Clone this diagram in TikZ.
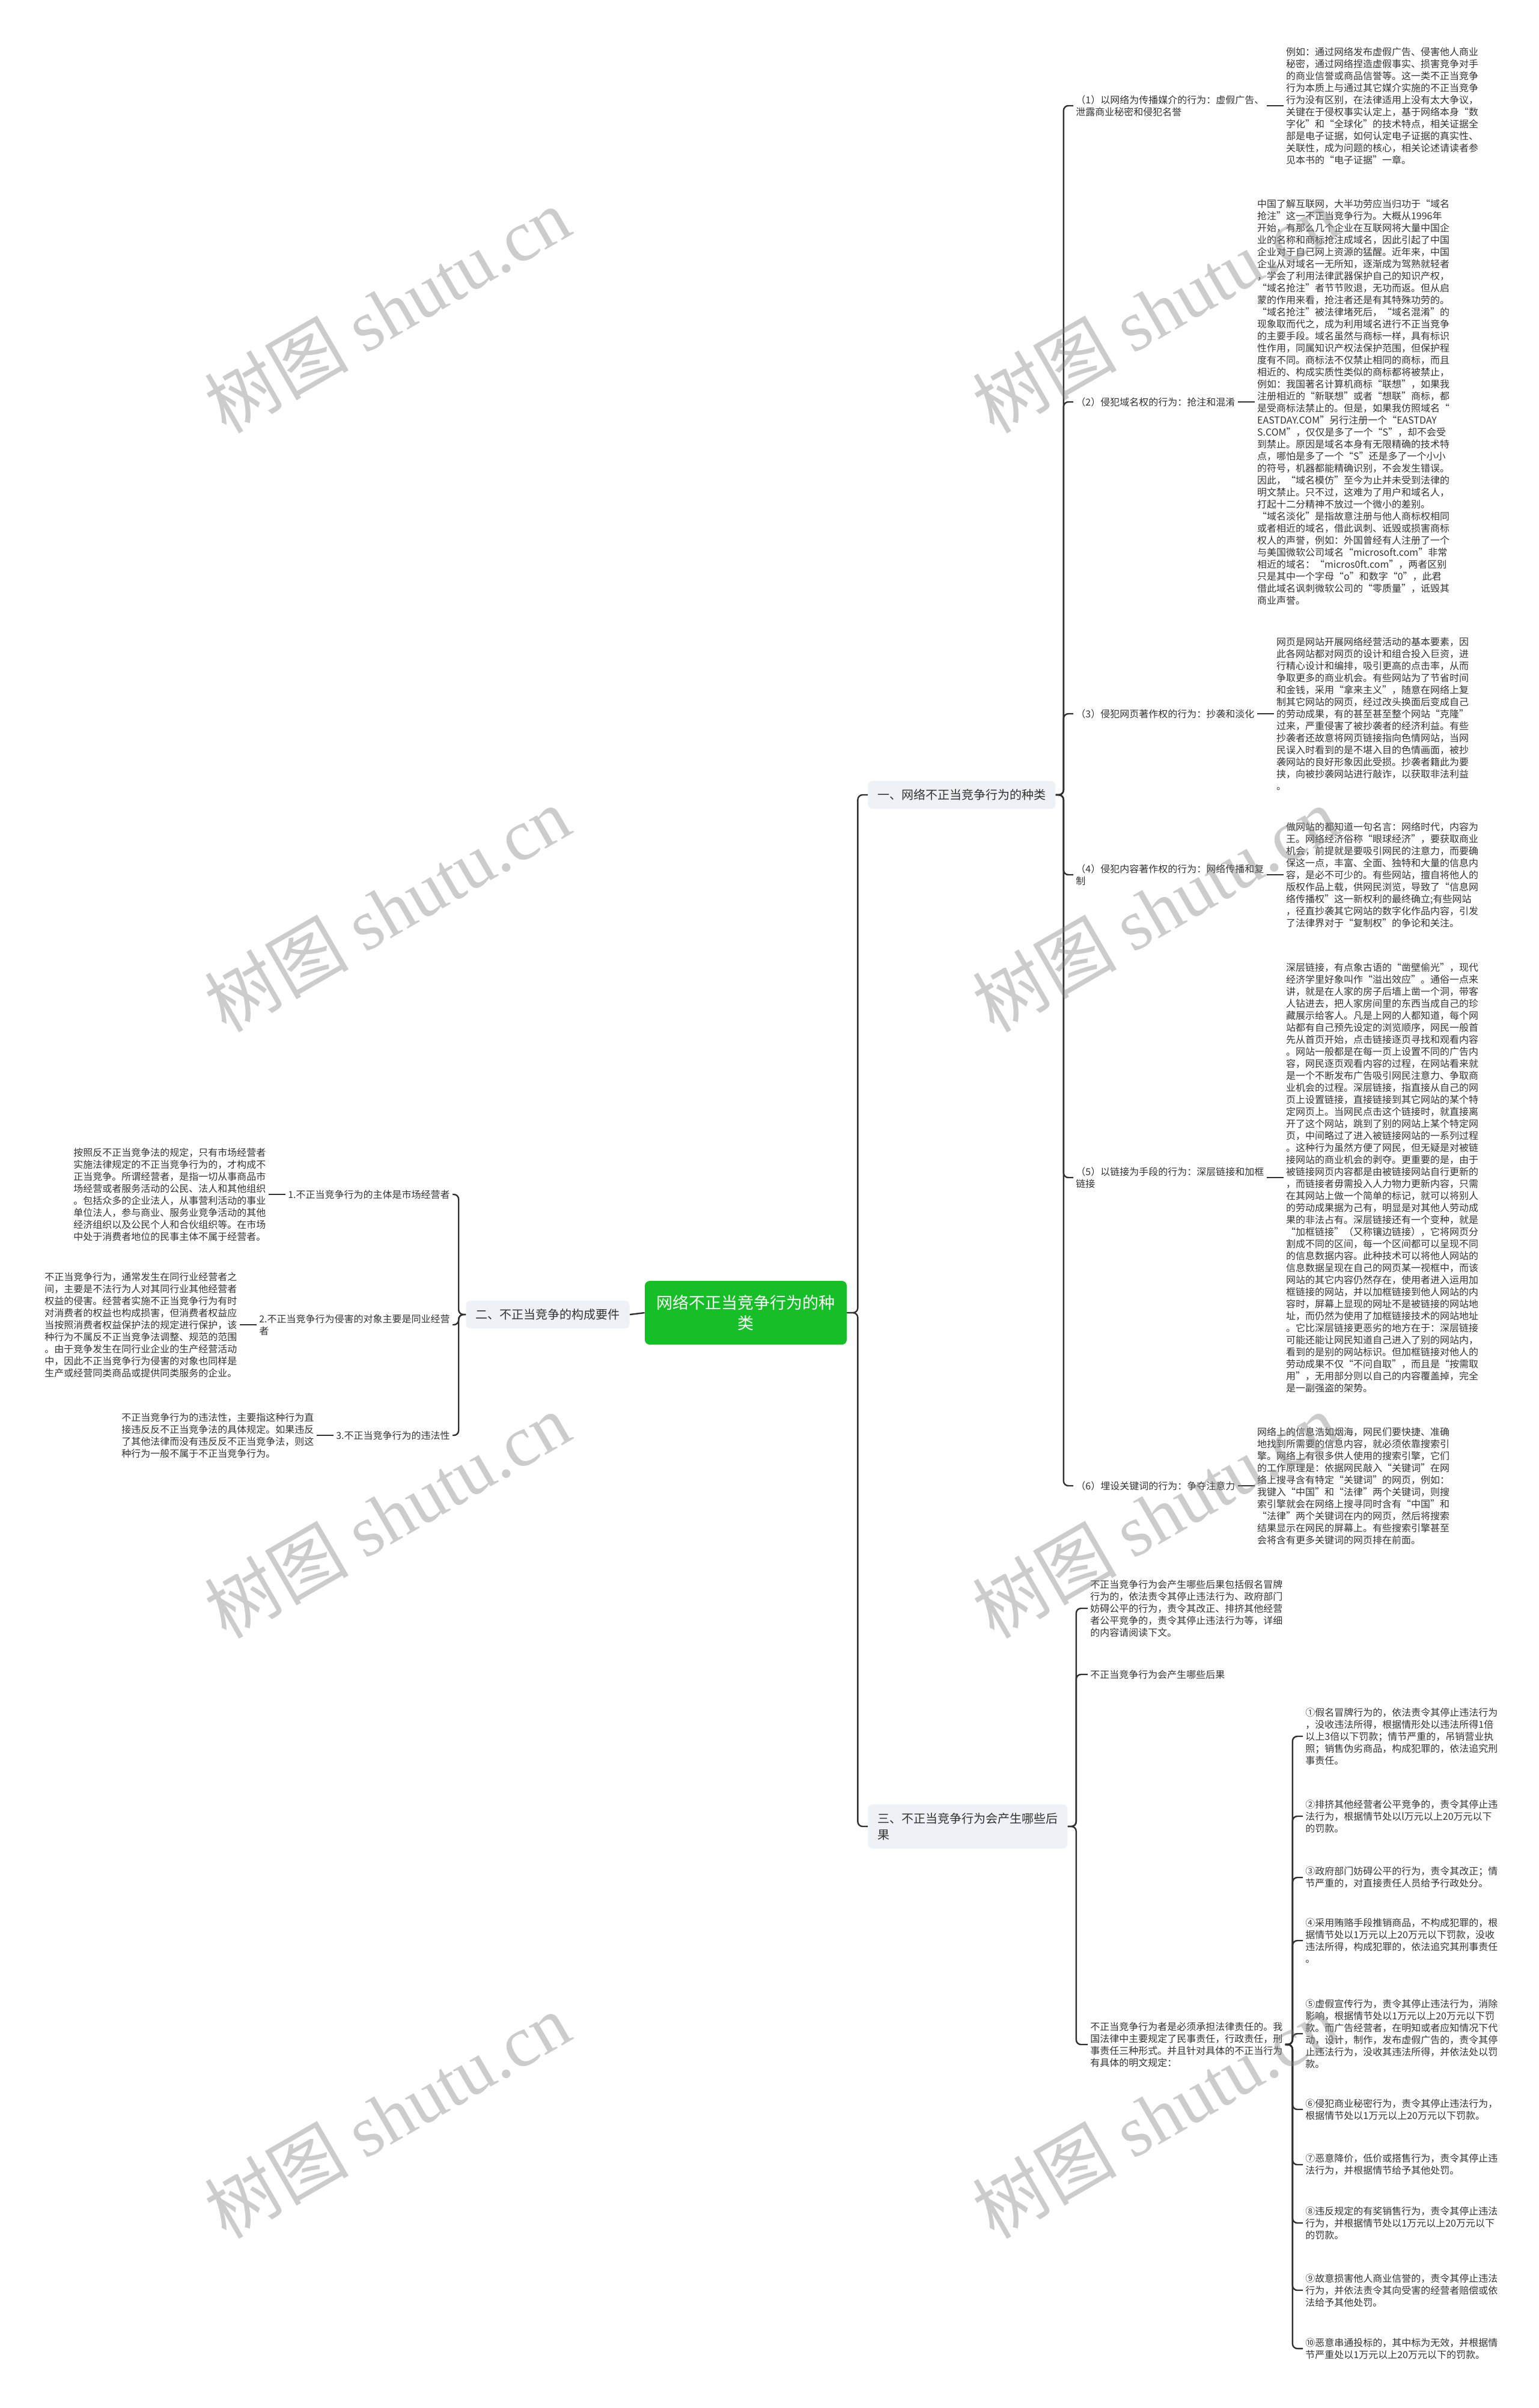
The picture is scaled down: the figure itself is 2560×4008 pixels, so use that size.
\documentclass[tikz,border=0pt]{standalone}
\usepackage{fontspec}
\setmainfont{Noto Sans CJK SC}
\newfontfamily\wmserif{Liberation Serif}
\usetikzlibrary{positioning}
\definecolor{rootgreen}{HTML}{16BF28}
\definecolor{topicfill}{HTML}{EEF1F5}
\definecolor{linkgray}{HTML}{2F2F2F}
\definecolor{textgray}{HTML}{333333}

\begin{document}
\begin{tikzpicture}[x=0.5pt,y=-0.5pt,
  every node/.style={inner sep=2pt,text=textgray,font=\fontsize{8}{10}\selectfont},
  leaf/.style={align=left},
  sub/.style={align=left},
  topic/.style={fill=topicfill,rounded corners=4pt,inner xsep=8pt,inner ysep=7pt,align=left,font=\fontsize{10}{13.5}\selectfont},
  root/.style={fill=rootgreen,rounded corners=4pt,text=white,align=center,minimum width=168pt,minimum height=53pt,font=\fontsize{13.5}{17}\selectfont},
  link/.style={draw=linkgray,line width=1.2pt,rounded corners=4pt},
  wmark/.style={rotate=30,text=gray,text opacity=0.4,font=\fontsize{60}{60}\selectfont}]
\fill[white] (0,0) rectangle (2560,4008);
\useasboundingbox (0,0) rectangle (2560,4008);

\node[root] (root) at (1241,2185) {网络不正当竞争行为的种\\类};
\node[topic,anchor=west] (kinds) at (1444,1323) {一、网络不正当竞争行为的种类};
\node[topic,anchor=east] (elems) at (1048,2188) {二、不正当竞争的构成要件};
\node[topic,anchor=west] (cons) at (1444,3040) {三、不正当竞争行为会产生哪些后\\果};

\node[sub,anchor=west] (k1) at (1786,176) {（1）以网络为传播媒介的行为：虚假广告、\\泄露商业秘密和侵犯名誉};
\node[sub,anchor=west] (k2) at (1786,669) {（2）侵犯域名权的行为：抢注和混淆};
\node[sub,anchor=west] (k3) at (1786,1188) {（3）侵犯网页著作权的行为：抄袭和淡化};
\node[sub,anchor=west] (k4) at (1786,1456) {（4）侵犯内容著作权的行为：网络传播和复\\制};
\node[sub,anchor=west] (k5) at (1786,1960) {（5）以链接为手段的行为：深层链接和加框\\链接};
\node[sub,anchor=west] (k6) at (1786,2473) {（6）埋设关键词的行为：争夺注意力};

\node[leaf,right=14pt of k1] (k1t) {例如：通过网络发布虚假广告、侵害他人商业\\
秘密，通过网络捏造虚假事实、损害竞争对手\\
的商业信誉或商品信誉等。这一类不正当竞争\\
行为本质上与通过其它媒介实施的不正当竞争\\
行为没有区别，在法律适用上没有太大争议，\\
关键在于侵权事实认定上，基于网络本身“数\\
字化”和“全球化”的技术特点，相关证据全\\
部是电子证据，如何认定电子证据的真实性、\\
关联性，成为问题的核心，相关论述请读者参\\
见本书的“电子证据”一章。};
\node[leaf,right=14pt of k2] (k2t) {中国了解互联网，大半功劳应当归功于“域名\\
抢注”这一不正当竞争行为。大概从1996年\\
开始，有那么几个企业在互联网将大量中国企\\
业的名称和商标抢注成域名，因此引起了中国\\
企业对于自己网上资源的猛醒。近年来，中国\\
企业从对域名一无所知，逐渐成为驾熟就轻者\\
，学会了利用法律武器保护自己的知识产权，\\
“域名抢注”者节节败退，无功而返。但从启\\
蒙的作用来看，抢注者还是有其特殊功劳的。\\
“域名抢注”被法律堵死后，“域名混淆”的\\
现象取而代之，成为利用域名进行不正当竞争\\
的主要手段。域名虽然与商标一样，具有标识\\
性作用，同属知识产权法保护范围，但保护程\\
度有不同。商标法不仅禁止相同的商标，而且\\
相近的、构成实质性类似的商标都将被禁止，\\
例如：我国著名计算机商标“联想”，如果我\\
注册相近的“新联想”或者“想联”商标，都\\
是受商标法禁止的。但是，如果我仿照域名“\\
EASTDAY.COM”另行注册一个“EASTDAY\\
S.COM”，仅仅是多了一个“S”，却不会受\\
到禁止。原因是域名本身有无限精确的技术特\\
点，哪怕是多了一个“S”还是多了一个小小\\
的符号，机器都能精确识别，不会发生错误。\\
因此，“域名模仿”至今为止并未受到法律的\\
明文禁止。只不过，这难为了用户和域名人，\\
打起十二分精神不放过一个微小的差别。\\
“域名淡化”是指故意注册与他人商标权相同\\
或者相近的域名，借此讽刺、诋毁或损害商标\\
权人的声誉，例如：外国曾经有人注册了一个\\
与美国微软公司域名“microsoft.com”非常\\
相近的域名：“micros0ft.com”，两者区别\\
只是其中一个字母“o”和数字“0”，此君\\
借此域名讽刺微软公司的“零质量”，诋毁其\\
商业声誉。};
\node[leaf,right=14pt of k3] (k3t) {网页是网站开展网络经营活动的基本要素，因\\
此各网站都对网页的设计和组合投入巨资，进\\
行精心设计和编排，吸引更高的点击率，从而\\
争取更多的商业机会。有些网站为了节省时间\\
和金钱，采用“拿来主义”，随意在网络上复\\
制其它网站的网页，经过改头换面后变成自己\\
的劳动成果，有的甚至甚至整个网站“克隆”\\
过来，严重侵害了被抄袭者的经济利益。有些\\
抄袭者还故意将网页链接指向色情网站，当网\\
民误入时看到的是不堪入目的色情画面，被抄\\
袭网站的良好形象因此受损。抄袭者籍此为要\\
挟，向被抄袭网站进行敲诈，以获取非法利益\\
。};
\node[leaf,right=14pt of k4] (k4t) {做网站的都知道一句名言：网络时代，内容为\\
王。网络经济俗称“眼球经济”，要获取商业\\
机会，前提就是要吸引网民的注意力，而要确\\
保这一点，丰富、全面、独特和大量的信息内\\
容，是必不可少的。有些网站，擅自将他人的\\
版权作品上载，供网民浏览，导致了“信息网\\
络传播权”这一新权利的最终确立;有些网站\\
，径直抄袭其它网站的数字化作品内容，引发\\
了法律界对于“复制权”的争论和关注。};
\node[leaf,right=14pt of k5] (k5t) {深层链接，有点象古语的“凿壁偷光”，现代\\
经济学里好象叫作“溢出效应”。通俗一点来\\
讲，就是在人家的房子后墙上凿一个洞，带客\\
人钻进去，把人家房间里的东西当成自己的珍\\
藏展示给客人。凡是上网的人都知道，每个网\\
站都有自己预先设定的浏览顺序，网民一般首\\
先从首页开始，点击链接逐页寻找和观看内容\\
。网站一般都是在每一页上设置不同的广告内\\
容，网民逐页观看内容的过程，在网站看来就\\
是一个不断发布广告吸引网民注意力、争取商\\
业机会的过程。深层链接，指直接从自己的网\\
页上设置链接，直接链接到其它网站的某个特\\
定网页上。当网民点击这个链接时，就直接离\\
开了这个网站，跳到了别的网站上某个特定网\\
页，中间略过了进入被链接网站的一系列过程\\
。这种行为虽然方便了网民，但无疑是对被链\\
接网站的商业机会的剥夺。更重要的是，由于\\
被链接网页内容都是由被链接网站自行更新的\\
，而链接者毋需投入人力物力更新内容，只需\\
在其网站上做一个简单的标记，就可以将别人\\
的劳动成果据为己有，明显是对其他人劳动成\\
果的非法占有。深层链接还有一个变种，就是\\
“加框链接”（又称镶边链接），它将网页分\\
割成不同的区间，每一个区间都可以呈现不同\\
的信息数据内容。此种技术可以将他人网站的\\
信息数据呈现在自己的网页某一视框中，而该\\
网站的其它内容仍然存在，使用者进入运用加\\
框链接的网站，并以加框链接到他人网站的内\\
容时，屏幕上显现的网址不是被链接的网站地\\
址，而仍然为使用了加框链接技术的网站地址\\
。它比深层链接更恶劣的地方在于：深层链接\\
可能还能让网民知道自己进入了别的网站内，\\
看到的是别的网站标识。但加框链接对他人的\\
劳动成果不仅“不问自取”，而且是“按需取\\
用”，无用部分则以自己的内容覆盖掉，完全\\
是一副强盗的架势。};
\node[leaf,right=14pt of k6] (k6t) {网络上的信息浩如烟海，网民们要快捷、准确\\
地找到所需要的信息内容，就必须依靠搜索引\\
擎。网络上有很多供人使用的搜索引擎，它们\\
的工作原理是：依据网民敲入“关键词”在网\\
络上搜寻含有特定“关键词”的网页，例如：\\
我键入“中国”和“法律”两个关键词，则搜\\
索引擎就会在网络上搜寻同时含有“中国”和\\
“法律”两个关键词在内的网页，然后将搜索\\
结果显示在网民的屏幕上。有些搜索引擎甚至\\
会将含有更多关键词的网页排在前面。};

\node[sub,anchor=east] (e1) at (753,1988) {1.不正当竞争行为的主体是市场经营者};
\node[sub,anchor=east] (e2) at (753,2205) {2.不正当竞争行为侵害的对象主要是同业经营\\者};
\node[sub,anchor=east] (e3) at (753,2389) {3.不正当竞争行为的违法性};
\node[leaf,left=14pt of e1] (e1t) {按照反不正当竞争法的规定，只有市场经营者\\
实施法律规定的不正当竞争行为的，才构成不\\
正当竞争。所谓经营者，是指一切从事商品市\\
场经营或者服务活动的公民、法人和其他组织\\
。包括众多的企业法人，从事营利活动的事业\\
单位法人，参与商业、服务业竞争活动的其他\\
经济组织以及公民个人和合伙组织等。在市场\\
中处于消费者地位的民事主体不属于经营者。};
\node[leaf,left=14pt of e2] (e2t) {不正当竞争行为，通常发生在同行业经营者之\\
间，主要是不法行为人对其同行业其他经营者\\
权益的侵害。经营者实施不正当竞争行为有时\\
对消费者的权益也构成损害，但消费者权益应\\
当按照消费者权益保护法的规定进行保护，该\\
种行为不属反不正当竞争法调整、规范的范围\\
。由于竞争发生在同行业企业的生产经营活动\\
中，因此不正当竞争行为侵害的对象也同样是\\
生产或经营同类商品或提供同类服务的企业。};
\node[leaf,left=14pt of e3] (e3t) {不正当竞争行为的违法性，主要指这种行为直\\
接违反反不正当竞争法的具体规定。如果违反\\
了其他法律而没有违反反不正当竞争法，则这\\
种行为一般不属于不正当竞争行为。};

\node[sub,anchor=west] (c1) at (1810,2677) {不正当竞争行为会产生哪些后果包括假名冒牌\\
行为的，依法责令其停止违法行为、政府部门\\
妨碍公平的行为，责令其改正、排挤其他经营\\
者公平竞争的，责令其停止违法行为等，详细\\
的内容请阅读下文。};
\node[sub,anchor=west] (c2) at (1810,2787) {不正当竞争行为会产生哪些后果};
\node[sub,anchor=west] (c3) at (1810,3403) {不正当竞争行为者是必须承担法律责任的。我\\
国法律中主要规定了民事责任，行政责任，刑\\
事责任三种形式。并且针对具体的不正当行为\\
有具体的明文规定：};

\node[leaf,anchor=west] (p1) at (2168,2890) {①假名冒牌行为的，依法责令其停止违法行为\\
，没收违法所得，根据情形处以违法所得1倍\\
以上3倍以下罚款；情节严重的，吊销营业执\\
照；销售伪劣商品，构成犯罪的，依法追究刑\\
事责任。};
\node[leaf,anchor=west] (p2) at (2168,3023) {②排挤其他经营者公平竞争的，责令其停止违\\
法行为，根据情节处以l万元以上20万元以下\\
的罚款。};
\node[leaf,anchor=west] (p3) at (2168,3125) {③政府部门妨碍公平的行为，责令其改正；情\\
节严重的，对直接责任人员给予行政处分。};
\node[leaf,anchor=west] (p4) at (2168,3230) {④采用贿赂手段推销商品，不构成犯罪的，根\\
据情节处以1万元以上20万元以下罚款，没收\\
违法所得，构成犯罪的，依法追究其刑事责任\\
。};
\node[leaf,anchor=west] (p5) at (2168,3385) {⑤虚假宣传行为，责令其停止违法行为，消除\\
影响，根据情节处以1万元以上20万元以下罚\\
款。而广告经营者，在明知或者应知情况下代\\
动，设计，制作，发布虚假广告的，责令其停\\
止违法行为，没收其违法所得，并依法处以罚\\
款。};
\node[leaf,anchor=west] (p6) at (2168,3511) {⑥侵犯商业秘密行为，责令其停止违法行为，\\
根据情节处以1万元以上20万元以下罚款。};
\node[leaf,anchor=west] (p7) at (2168,3603) {⑦恶意降价，低价或搭售行为，责令其停止违\\
法行为，并根据情节给予其他处罚。};
\node[leaf,anchor=west] (p8) at (2168,3700) {⑧违反规定的有奖销售行为，责令其停止违法\\
行为，并根据情节处以1万元以上20万元以下\\
的罚款。};
\node[leaf,anchor=west] (p9) at (2168,3812) {⑨故意损害他人商业信誉的，责令其停止违法\\
行为，并依法责令其向受害的经营者赔偿或依\\
法给予其他处罚。};
\node[leaf,anchor=west] (p10) at (2168,3909) {⑩恶意串通投标的，其中标为无效，并根据情\\
节严重处以1万元以上20万元以下的罚款。};

\draw[link] (root.west) -- (elems.east);
\draw[link] (root.east) -- ++(18,0) |- (kinds.west);
\draw[link] (root.east) -- ++(18,0) |- (cons.west);

\draw[link] (kinds.east) -- ++(13,0) |- (k1.west);
\draw[link] (kinds.east) -- ++(13,0) |- (k2.west);
\draw[link] (kinds.east) -- ++(13,0) |- (k3.west);
\draw[link] (kinds.east) -- ++(13,0) |- (k4.west);
\draw[link] (kinds.east) -- ++(13,0) |- (k5.west);
\draw[link] (kinds.east) -- ++(13,0) |- (k6.west);
\draw[link] (k1.east) -- (k1t.west);
\draw[link] (k2.east) -- (k2t.west);
\draw[link] (k3.east) -- (k3t.west);
\draw[link] (k4.east) -- (k4t.west);
\draw[link] (k5.east) -- (k5t.west);
\draw[link] (k6.east) -- (k6t.west);

\draw[link] (elems.west) -- ++(-12,0) |- (e1.east);
\draw[link] (elems.west) -- ++(-12,0) |- (e2.east);
\draw[link] (elems.west) -- ++(-12,0) |- (e3.east);
\draw[link] (e1.west) -- (e1t.east);
\draw[link] (e2.west) -- (e2t.east);
\draw[link] (e3.west) -- (e3t.east);

\draw[link] (cons.east) -- ++(14,0) |- (c1.west);
\draw[link] (cons.east) -- ++(14,0) |- (c2.west);
\draw[link] (cons.east) -- ++(14,0) |- (c3.west);
\draw[link] (c3.east) -- ++(12,0) |- (p1.west);
\draw[link] (c3.east) -- ++(12,0) |- (p2.west);
\draw[link] (c3.east) -- ++(12,0) |- (p3.west);
\draw[link] (c3.east) -- ++(12,0) |- (p4.west);
\draw[link] (c3.east) -- ++(12,0) |- (p5.west);
\draw[link] (c3.east) -- ++(12,0) |- (p6.west);
\draw[link] (c3.east) -- ++(12,0) |- (p7.west);
\draw[link] (c3.east) -- ++(12,0) |- (p8.west);
\draw[link] (c3.east) -- ++(12,0) |- (p9.west);
\draw[link] (c3.east) -- ++(12,0) |- (p10.west);

\node[wmark] (wm1) at (644,516) {树图 {\wmserif shutu.cn}};
\node[wmark] (wm2) at (1922,516) {树图 {\wmserif shutu.cn}};
\node[wmark] (wm3) at (644,1513) {树图 {\wmserif shutu.cn}};
\node[wmark] (wm4) at (1922,1513) {树图 {\wmserif shutu.cn}};
\node[wmark] (wm5) at (644,2522) {树图 {\wmserif shutu.cn}};
\node[wmark] (wm6) at (1922,2522) {树图 {\wmserif shutu.cn}};
\node[wmark] (wm7) at (644,3521) {树图 {\wmserif shutu.cn}};
\node[wmark] (wm8) at (1922,3521) {树图 {\wmserif shutu.cn}};
\end{tikzpicture}
\end{document}
